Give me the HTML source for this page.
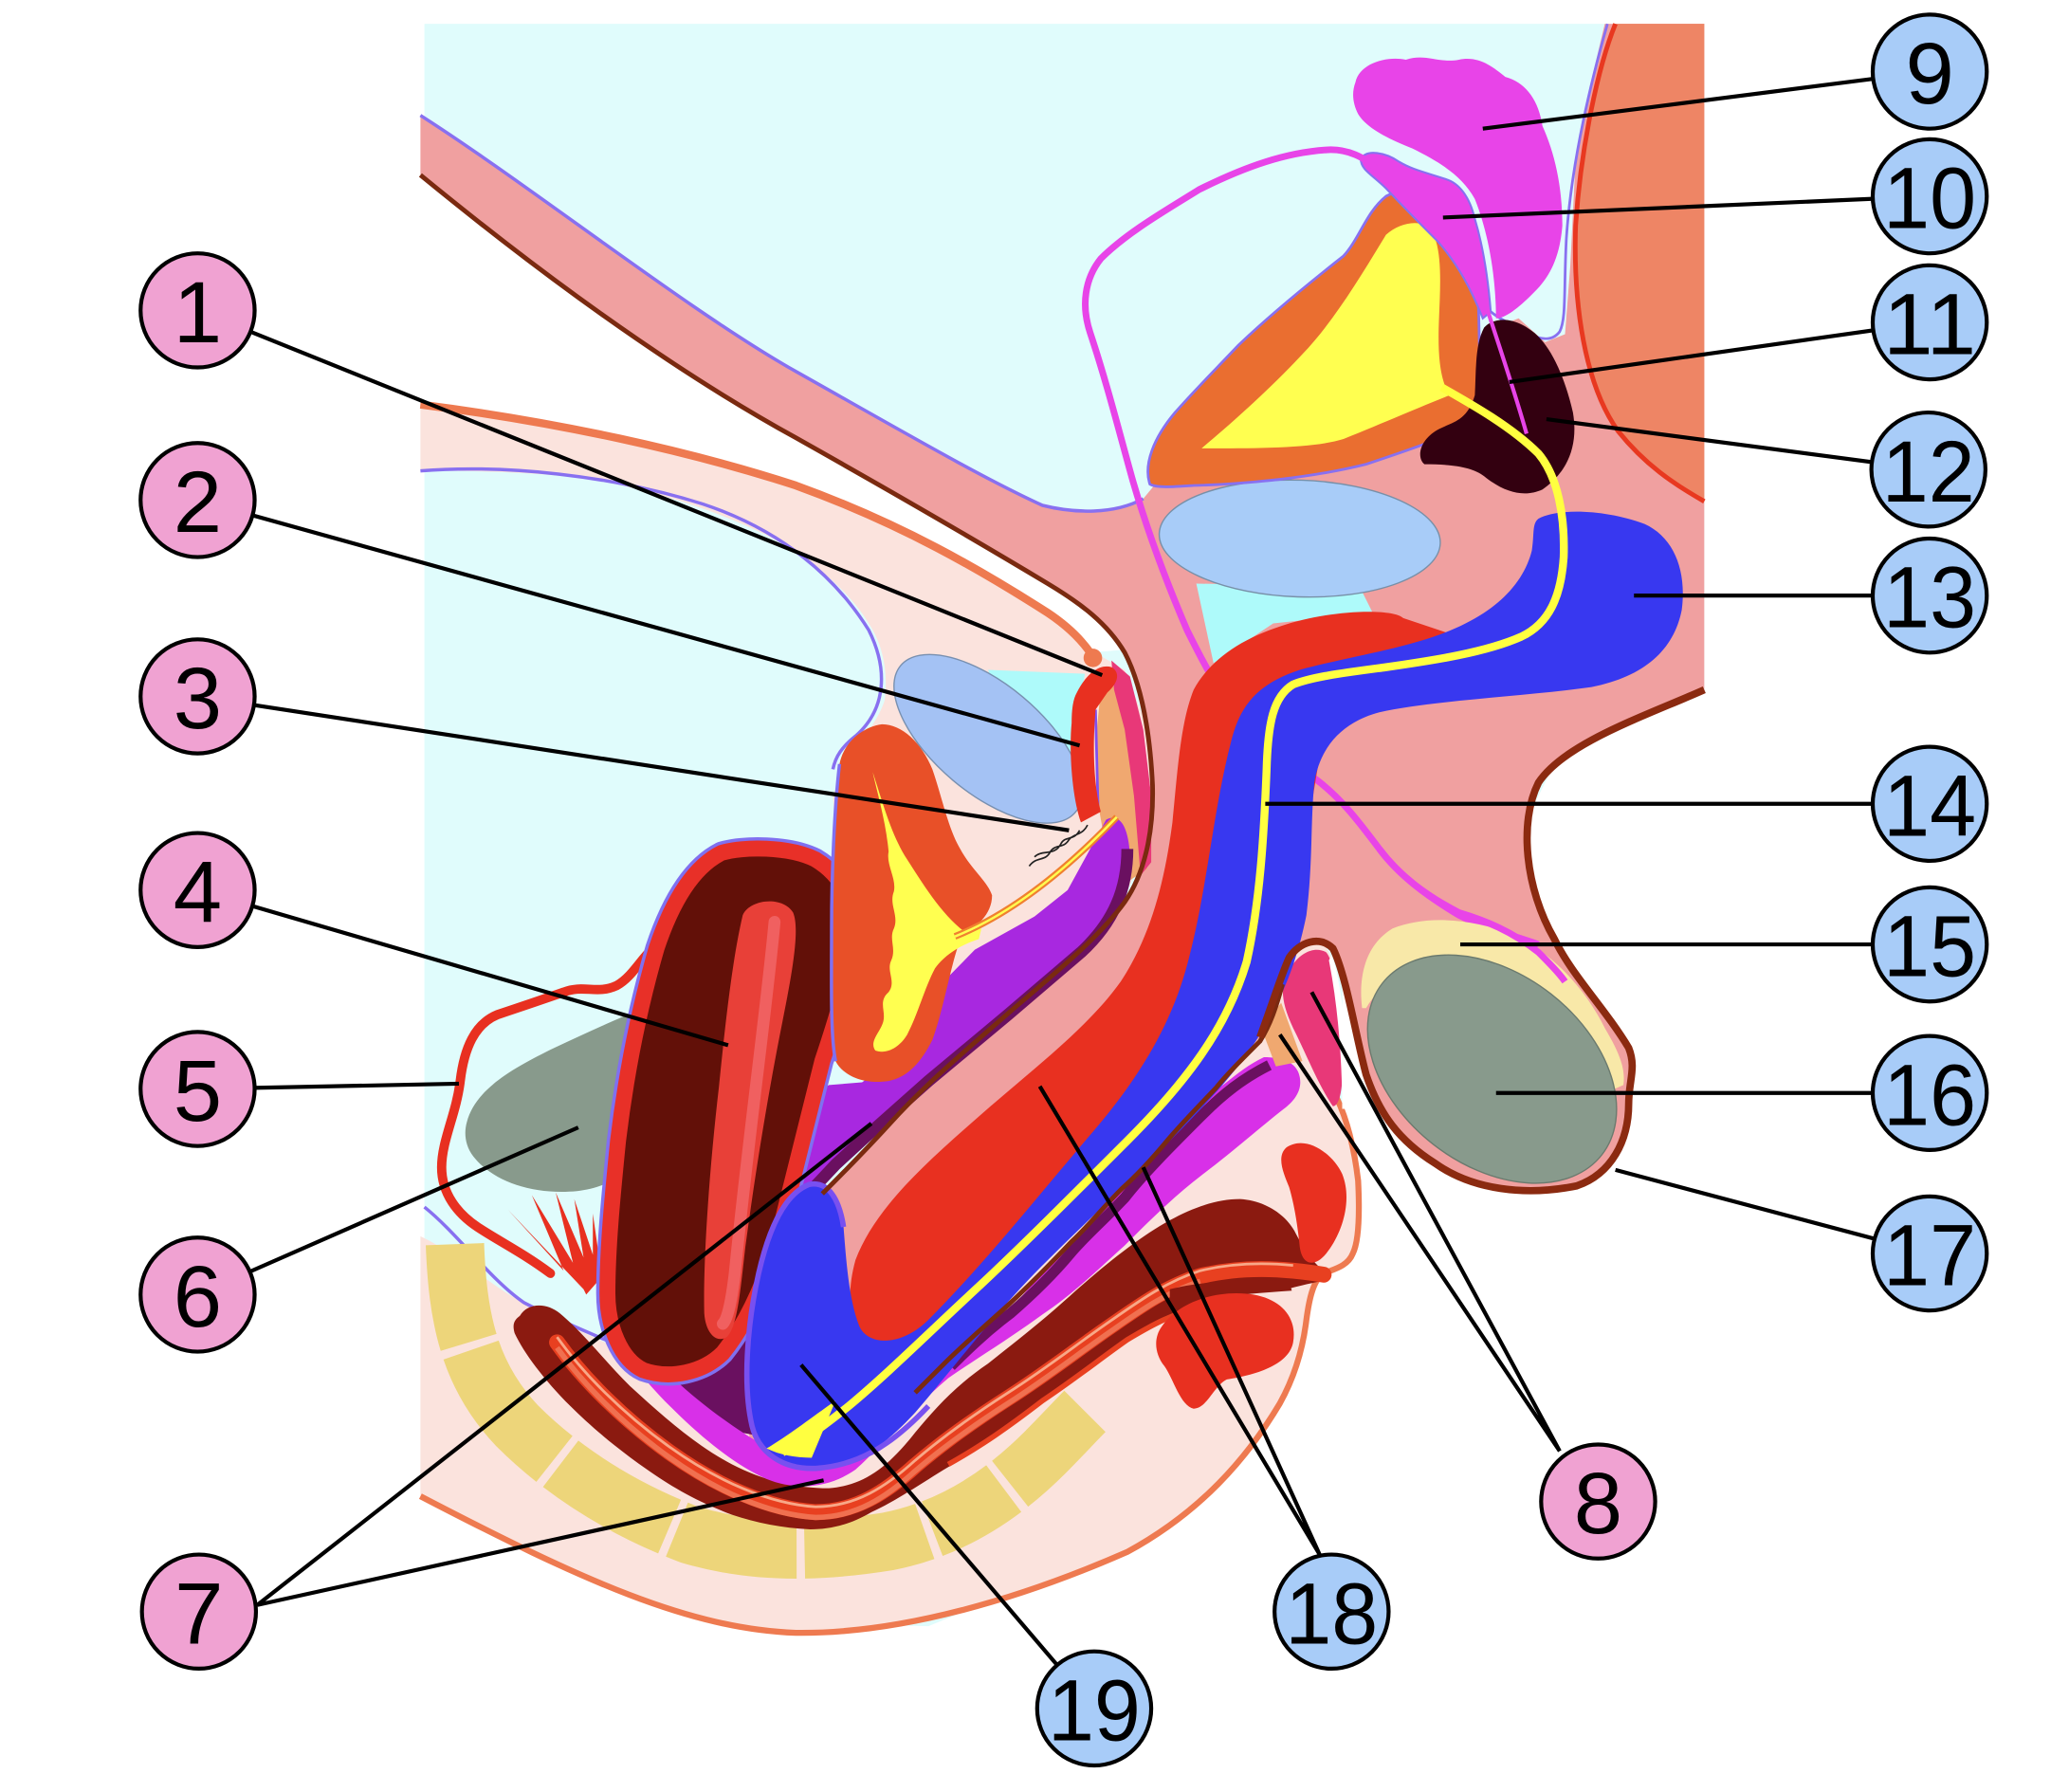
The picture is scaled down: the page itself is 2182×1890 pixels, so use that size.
<!DOCTYPE html>
<html><head><meta charset="utf-8"><style>html,body{margin:0;padding:0;background:#fff}svg{display:block}</style></head>
<body>
<svg width="2182" height="1890" viewBox="0 0 1560 1351" preserveAspectRatio="none" xmlns="http://www.w3.org/2000/svg">
<rect x="0" y="0" width="1560" height="1351" fill="#fff"/>
<!-- cyan background -->
<path d="M320,18 H1285 V520 L1175,570 L1150,620 L1060,700 L1012,740 L1014,880 L1015,940 L985,965 L978,1000 L950,1065 L860,1160 L700,1226 L560,1223 L420,1175 L320,1120 Z" fill="#E0FCFC"/>
<!-- white wedge between bodies -->
<path d="M317,132 C400,200 500,275 600,330 C680,375 740,410 790,440 C815,455 835,470 846,490 L822,492 C815,482 805,472 790,462 C740,430 680,395 600,366 C520,340 420,318 317,305 Z" fill="#fff"/>
<!-- female pale pink regions -->
<path d="M317,303 C420,316 520,338 600,364 C680,393 740,428 790,460 L822,490 L848,505 L863,543 L869,592 L863,640 L850,672 L800,730 L740,780 L700,810 L640,790 L628,600 C640,565 660,550 667,528 C670,505 665,485 655,470 C640,445 610,420 577,403 C540,385 500,372 450,362 C400,355 350,355 317,355 Z" fill="#FBE3DD"/>
<path d="M317,932 C345,945 370,970 395,982 C420,994 445,1008 470,1018 L600,1000 L700,900 L860,790 L955,775 L967,740 C972,718 985,705 998,712 C1008,722 1012,760 1012,800 L1008,828 C1016,845 1021,865 1024,890 C1025,910 1025,935 1020,945 C1016,955 1005,957 998,960 C990,965 987,980 985,995 C982,1020 975,1040 965,1058 C940,1100 905,1140 850,1170 C770,1205 680,1232 600,1231 C520,1228 440,1192 317,1128 Z" fill="#FBE3DD"/>
<path d="M317,305 C420,318 520,340 600,366 C680,395 740,430 790,462 C805,472 815,482 822,492" fill="none" stroke="#EE7A50" stroke-width="6"/>
<path d="M1008,828 C1016,845 1021,865 1024,890 C1025,910 1025,935 1020,945 C1016,955 1005,957 998,960 C990,965 987,980 985,995 C982,1020 975,1040 965,1058 C940,1100 905,1140 850,1170 C770,1205 680,1232 600,1231 C520,1228 440,1192 317,1128" fill="none" stroke="#EE7A50" stroke-width="4.5"/>
<!-- peritoneum lines -->
<path d="M317,355 C380,350 460,358 530,380 C590,400 630,435 655,475 C670,505 668,535 645,555 C635,563 630,570 628,580" fill="none" stroke="#8870F0" stroke-width="2.5"/>
<path d="M320,910 C345,930 370,965 395,982 C420,995 445,1005 470,1016" fill="none" stroke="#8870F0" stroke-width="2.5"/>
<!-- vertebrae -->
<path d="M343,938 C345,990 352,1035 390,1075 C425,1110 470,1138 520,1157 C570,1172 620,1170 670,1162 C720,1152 758,1125 788,1095 C800,1083 810,1072 818,1064" fill="none" stroke="#EDD57A" stroke-width="44" stroke-dasharray="75 6 105 6 95 6 92 6 92 6 62 6 90"/>
<!-- rectum -->
<path d="M392,992 C398,982 412,982 422,990 C440,1005 455,1025 475,1045 C500,1068 525,1090 552,1104 C575,1116 600,1122 625,1122 C650,1120 668,1108 690,1080 C705,1062 720,1045 745,1028 C765,1012 786,996 810,974 C835,952 860,932 882,920 C900,910 918,904 935,904 C952,905 968,914 976,928 C982,940 990,952 998,958 L996,966 C985,968 978,970 970,972 C940,975 905,980 882,992 C860,1002 845,1014 834,1022 C815,1036 800,1048 786,1058 C760,1076 740,1092 715,1106 C695,1118 675,1132 657,1140 C640,1150 625,1153 611,1153 C590,1152 570,1148 552,1142 C525,1132 505,1120 488,1108 C465,1092 445,1075 430,1060 C410,1040 395,1020 388,1005 C386,998 388,995 392,992 Z" fill="#8B1A10"/>
<path d="M420,1012 C440,1040 470,1070 505,1095 C540,1120 580,1138 615,1140 C645,1140 668,1125 690,1105 C710,1088 735,1070 760,1054 C790,1035 815,1015 840,998 C860,984 880,970 905,962 C930,956 955,956 975,958 C985,959 992,960 998,961" fill="none" stroke="#E84020" stroke-width="12" stroke-linecap="round"/>
<path d="M420,1016 C440,1044 470,1074 505,1099 C540,1124 580,1142 615,1144 C645,1144 668,1129 690,1109 C710,1092 735,1074 760,1058 C790,1039 815,1019 840,1002 C860,988 880,974 905,966" fill="none" stroke="#F07050" stroke-width="4"/>
<path d="M420,1008 C440,1036 470,1066 505,1091 C540,1116 580,1134 615,1136 C645,1136 668,1121 690,1101 C710,1084 735,1066 760,1050 C790,1031 815,1011 840,994 C860,980 880,966 905,958 C930,952 955,952 975,954" fill="none" stroke="#F8A888" stroke-width="2"/>
<path d="M715,1104 C740,1090 760,1076 786,1056 C810,1040 830,1024 850,1010 C870,998 885,990 905,986" fill="none" stroke="#E84020" stroke-width="4"/>
<path d="M882,972 C905,966 940,964 972,966 L974,973 C945,975 910,978 882,982 Z" fill="#8B1A10"/>
<path d="M970,865 C985,855 1005,870 1012,885 C1020,905 1012,930 1000,945 C992,955 982,955 980,940 C978,920 975,905 972,895 C968,885 962,872 970,865 Z" fill="#E83020"/>
<path d="M876,1000 C890,980 920,972 945,976 C968,980 978,995 975,1012 C972,1028 950,1036 925,1040 C915,1045 910,1062 900,1062 C890,1060 885,1040 878,1030 C870,1020 870,1008 876,1000 Z" fill="#E83020"/>
<!-- male salmon body -->
<path d="M317,87 C400,140 520,235 600,280 C680,325 740,360 786,381 C810,387 840,388 862,376 L900,330 L1000,230 L1112,300 L1119,250 L1145,240 L1165,258 L1180,252 L1184,200 L1188,120 L1200,60 L1210,18 L1285,18 L1285,520 C1240,540 1180,560 1160,590 C1145,620 1150,670 1172,708 C1185,735 1210,760 1228,790 C1234,805 1228,815 1228,832 C1228,860 1215,885 1189,894 C1150,902 1110,897 1082,877 C1055,860 1040,840 1030,810 C1022,780 1015,735 1005,715 C995,705 980,710 972,722 C966,735 960,755 950,782 C930,805 900,830 870,858 C840,888 810,920 780,950 C750,980 720,1012 690,1045 L640,1095 L600,1110 L565,1085 L565,1000 L590,920 L620,900 C635,885 650,870 671,847 C700,815 735,786 767,758 C800,730 830,705 848,680 C862,660 870,630 869,592 C867,550 860,515 848,492 C835,470 815,455 790,440 C740,410 680,375 600,330 C500,275 400,200 317,132 Z" fill="#F0A0A0"/>
<path d="M317,87 C400,140 520,235 600,280 C680,325 740,360 786,381 C810,387 840,388 862,376" fill="none" stroke="#8870F0" stroke-width="2.5"/>
<!-- orange top-right region -->
<path d="M1218,18 L1285,18 L1285,378 C1262,365 1240,350 1220,325 C1195,290 1186,230 1188,170 C1192,110 1205,50 1218,18 Z" fill="#EE8565"/>
<path d="M1218,18 C1205,50 1192,110 1188,170 C1186,230 1195,290 1220,325 C1240,350 1262,365 1285,378" fill="none" stroke="#E83820" stroke-width="3.5"/>
<path d="M1212,18 C1200,60 1185,120 1181,180 C1179,220 1181,240 1176,250 C1170,258 1160,256 1150,250 C1140,245 1130,240 1124,235" fill="none" stroke="#8870F0" stroke-width="2"/>
<!-- female retropubic structures -->
<path d="M745,505 L818,508 L812,540 L810,612 L795,616 L775,590 Z" fill="#AEFAFA"/>
<ellipse cx="745" cy="557" rx="86" ry="41" transform="rotate(40 745 557)" fill="#A4C2F4" stroke="#7890B0" stroke-width="1"/>
<path d="M830,520 L848,515 L860,560 L866,610 L865,655 L850,665 L834,640 L829,612 L826,560 Z" fill="#F0A870"/>
<path d="M838,498 L852,510 L862,550 L868,600 L868,650 L860,660 L855,600 L848,550 L840,520 Z" fill="#E83878"/>
<path d="M826,535 L828,612" stroke="#8050F0" stroke-width="2" fill="none"/>
<path d="M812,522 C818,510 828,500 838,503 C845,507 843,515 835,522 L826,535 C824,560 824,590 830,612 L815,620 C808,600 806,565 808,545 C808,535 809,527 812,522 Z" fill="#E83020"/>
<circle cx="824" cy="496" r="7" fill="#EE7A50"/>
<!-- anterior vaginal wall (purple) -->
<path d="M834,618 C845,612 852,625 852,650 C852,675 840,695 820,715 L760,765 L700,815 L655,855 L630,880 L612,897 L600,930 L585,975 L566,1006 L540,1010 L560,960 L585,905 L600,860 L612,825 L625,818 L650,816 L672,800 L690,762 L735,716 L780,691 L805,671 Z" fill="#A828E0"/>
<path d="M850,640 C850,670 840,695 815,718 L760,765 L700,815 L655,855 L630,878 L614,895" fill="none" stroke="#6A1060" stroke-width="9"/>
<path d="M497,1008 C520,1000 545,1000 568,1010 C572,1035 572,1060 570,1082 C555,1080 540,1075 530,1068 C515,1055 500,1035 488,1019 Z" fill="#6A1060"/>
<!-- posterior vaginal wall (magenta) -->
<path d="M953,797 C965,797 978,800 980,812 C982,822 976,830 968,836 C950,850 930,868 906,886 C885,902 865,922 848,939 C830,955 810,975 786,991 C760,1010 735,1025 715,1039 C690,1060 665,1090 645,1108 C625,1122 600,1124 578,1115 C555,1105 530,1085 505,1060 C485,1040 470,1020 460,1005 L480,1010 C500,1035 540,1070 580,1092 C610,1100 650,1085 690,1050 C700,1040 708,1032 715,1025 C740,1006 760,990 775,972 C790,955 800,945 810,934 C825,918 835,908 846,898 C860,882 870,870 882,858 C895,845 905,832 917,822 C930,812 940,803 953,797 Z" fill="#D830E8"/>
<path d="M957,803 C937,813 922,825 907,840 C882,865 862,885 848,903 C832,920 817,933 807,945 C792,963 777,977 762,990 C742,1005 727,1020 717,1030" fill="none" stroke="#6A1060" stroke-width="8"/>
<!-- U structure -->
<path d="M951,775 L966,756 L982,800 L962,804 Z" fill="#F0A870"/>
<path d="M968,740 C975,720 990,712 1000,718 C1008,728 1010,760 1012,800 C1013,820 1010,834 1005,834 C995,820 985,795 975,775 C968,760 966,750 968,740 Z" fill="#E83878"/>
<path d="M1004,720 C1010,735 1014,770 1017,800 C1019,820 1020,832 1018,836 L1012,836 C1012,800 1009,760 1002,724 Z" fill="#fff"/>
<!-- ovary, tube -->
<path d="M352,846 C358,822 385,806 418,790 C448,776 478,762 497,756 L495,858 C482,880 462,895 435,898 C402,901 372,891 357,872 C350,863 350,853 352,846 Z" fill="#889A8C"/>
<path d="M500,712 C488,712 480,735 465,743 C450,750 440,742 425,748 C405,755 390,760 375,765 C358,772 350,790 347,815 C344,840 333,860 333,880 C333,900 345,915 360,925 C375,935 395,945 415,960" fill="none" stroke="#E83020" stroke-width="7" stroke-linecap="round"/>
<path d="M440,972 L383,912 L425,958 L401,901 L432,952 L419,899 L440,948 L433,904 L447,946 L447,915 L452,950 L451,937 L456,960 L442,976 Z" fill="#E83020"/>
<!-- uterus -->
<path d="M544,643 C560,638 595,638 615,648 C635,660 645,680 643,705 C640,740 630,770 620,800 C610,840 600,880 590,920 C580,960 565,995 545,1020 C530,1035 505,1040 485,1033 C468,1025 458,1000 458,975 C458,940 462,900 466,860 C472,810 482,760 495,715 C505,685 520,655 544,643 Z" fill="none" stroke="#8070F0" stroke-width="17"/>
<path d="M544,643 C560,638 595,638 615,648 C635,660 645,680 643,705 C640,740 630,770 620,800 C610,840 600,880 590,920 C580,960 565,995 545,1020 C530,1035 505,1040 485,1033 C468,1025 458,1000 458,975 C458,940 462,900 466,860 C472,810 482,760 495,715 C505,685 520,655 544,643 Z" fill="#621008" stroke="#E83028" stroke-width="12"/>
<path d="M560,690 C565,678 590,675 598,688 C603,700 598,730 590,770 C580,820 570,880 562,940 C558,975 556,1000 548,1008 C540,1013 532,1005 531,990 C530,950 535,880 542,820 C548,760 553,720 560,690 Z" fill="#E84038"/>
<path d="M584,695 C578,760 564,860 554,960 C551,985 548,995 545,998" fill="none" stroke="#F06060" stroke-width="9" stroke-linecap="round"/>
<!-- female bladder -->
<path d="M633,576 C636,560 650,548 665,546 C680,546 695,560 703,580 C710,600 715,625 724,640 C732,655 745,665 748,675 C748,690 735,700 726,704 C718,720 712,760 703,784 C695,800 685,812 670,815 C650,818 635,810 630,800 C626,780 627,740 627,700 C627,660 629,610 633,576 Z" fill="#E85028"/>
<path d="M633,576 C629,610 627,660 627,700 C627,740 626,780 630,800" fill="none" stroke="#8070F0" stroke-width="2.5"/>
<path d="M658,582 C664,600 672,630 684,648 C695,665 710,690 728,703 L740,700 L738,708 C725,712 712,720 705,730 C697,745 692,765 684,780 C678,790 668,795 660,792 C655,785 664,778 666,770 C668,762 662,755 670,748 C676,740 668,732 672,724 C676,715 670,708 674,700 C678,690 670,682 674,672 C676,662 668,652 670,642 C668,620 662,600 658,582 Z" fill="#FFFF50"/>
<path d="M720,706 C760,690 800,660 842,616" fill="none" stroke="#F08030" stroke-width="5"/>
<path d="M720,706 C760,690 800,660 842,616" fill="none" stroke="#FFFF50" stroke-width="1.8"/>
<path d="M776,653 C782,645 788,650 792,642 C796,636 802,640 806,633 C810,628 816,630 820,622 M780,646 C786,640 795,646 800,636 C803,630 810,634 814,626" fill="none" stroke="#222" stroke-width="1.2"/>
<!-- male pelvic organs -->
<path d="M902,440 L1025,442 L1035,462 L960,470 L915,500 Z" fill="#AEFAFA"/>
<ellipse cx="980" cy="406" rx="106" ry="44" transform="rotate(2 980 406)" fill="#A8CCF8" stroke="#7890A8" stroke-width="1"/>
<path d="M867,365 C862,350 870,330 886,311 C900,295 915,280 934,260 C955,240 985,215 1013,193 C1025,180 1030,160 1045,148 C1060,140 1080,140 1100,145 C1110,165 1114,200 1115,240 C1116,280 1116,300 1112,318 C1090,330 1060,340 1030,350 C990,360 940,365 900,366 C885,367 872,368 867,365 Z" fill="#EA6E30" stroke="#8870F0" stroke-width="2"/>
<path d="M906,338 C925,322 955,296 982,267 C1005,243 1025,210 1045,177 C1055,168 1070,165 1078,172 C1088,185 1086,215 1085,240 C1084,265 1085,285 1093,298 C1075,305 1045,318 1013,331 C990,338 950,338 906,338 Z" fill="#FFFF50"/>
<path d="M1022,62 C1025,48 1045,42 1060,45 C1075,40 1085,48 1100,45 C1115,42 1125,50 1135,58 C1150,62 1160,75 1163,95 C1172,115 1178,140 1178,170 C1176,195 1168,210 1155,222 C1145,232 1135,240 1128,240 C1128,215 1124,180 1112,150 C1102,132 1085,122 1065,112 C1045,104 1030,96 1024,86 C1020,78 1019,70 1022,62 Z" fill="#E844E8"/>
<path d="M1026,120 C1030,112 1045,115 1055,122 C1065,128 1075,130 1090,135 C1100,138 1108,148 1112,165 C1118,185 1122,210 1124,235 L1118,240 C1110,220 1100,200 1084,182 C1072,170 1060,158 1045,142 C1035,132 1026,128 1026,120 Z" fill="#E844E8" stroke="#8870F0" stroke-width="1.5"/>
<path d="M1119,247 C1125,240 1140,237 1157,251 C1170,262 1180,285 1186,311 C1190,335 1183,355 1163,369 C1150,375 1135,372 1119,359 C1110,352 1095,350 1074,350 C1068,345 1070,332 1084,324 C1095,318 1106,318 1112,298 C1113,280 1112,260 1119,247 Z" fill="#330010"/>
<path d="M1121,232 C1130,260 1142,295 1151,327" fill="none" stroke="#E844E8" stroke-width="3"/>
<path d="M1040,130 C1030,118 1015,112 1000,113 C970,115 940,125 904,143 C880,158 850,175 830,195 C818,210 815,230 822,251 C835,290 845,330 854,362 C865,400 880,440 895,475 C905,495 915,515 930,535 C950,560 970,575 990,586 C1010,600 1025,620 1040,640 C1055,660 1075,675 1100,690 C1120,700 1140,705 1160,712" fill="none" stroke="#E844E8" stroke-width="5"/>
<!-- corpus cavernosum -->
<path d="M1058,466 C1050,458 1000,460 966,472 C935,482 912,498 900,520 C890,545 888,580 884,620 C878,665 868,705 845,740 C820,775 780,805 740,840 C700,875 660,910 645,950 C638,975 640,1000 652,1010 C665,1018 685,1012 695,1000 L760,940 L820,880 L900,800 L960,700 L990,600 L1000,540 L1060,500 L1100,480 Z" fill="#E83020"/>
<!-- corpus spongiosum -->
<path d="M1160,391 C1175,383 1210,384 1240,395 C1262,405 1272,430 1268,460 C1262,490 1240,510 1200,518 C1150,525 1080,528 1040,537 C1010,545 995,565 991,590 C988,620 990,650 985,690 C975,740 955,780 920,820 C880,865 830,910 785,955 C750,990 720,1030 690,1065 C665,1092 645,1105 615,1107 C590,1108 572,1095 567,1075 C560,1045 563,1000 572,960 C580,925 592,900 610,893 C625,890 633,905 636,925 C638,950 640,980 648,1000 C655,1015 680,1015 700,995 C740,955 780,905 820,858 C860,812 885,770 897,720 C910,670 915,610 928,560 C935,530 950,515 980,505 C1020,494 1070,488 1105,470 C1135,455 1150,435 1155,415 C1157,402 1155,395 1160,391 Z" fill="#3838F0"/>
<path d="M700,1060 C670,1092 645,1105 615,1107 C590,1108 572,1095 567,1075 C560,1045 563,1000 572,960 C580,925 592,900 610,893 C625,890 633,905 636,925" fill="none" stroke="#7850F0" stroke-width="4"/>
<path d="M1087,292 C1110,305 1140,322 1160,342 C1175,360 1180,390 1179,420 C1177,450 1168,470 1147,480 C1120,492 1080,498 1045,503 C1015,507 990,510 975,516 C960,525 956,545 955,580 C953,630 950,680 940,725 C925,775 895,815 850,860 C810,900 770,940 740,968 C700,1005 670,1035 640,1060 C615,1080 600,1090 590,1095" fill="none" stroke="#FFFF40" stroke-width="6"/>
<path d="M578,1092 C595,1082 610,1070 630,1056 L612,1099 C600,1099 588,1097 578,1092 Z" fill="#FFFF40"/>
<!-- brown outlines -->
<path d="M317,132 C400,200 500,275 600,330 C680,375 740,410 790,440 C815,455 835,470 848,492 C860,515 867,550 869,592 C870,630 862,660 848,680 C830,705 800,730 767,758 C735,786 700,815 671,847 C650,870 635,885 620,900" fill="none" stroke="#7A2A10" stroke-width="3.5"/>
<path d="M967,742 C962,760 958,772 950,785 C935,800 925,810 917,820 C900,838 890,848 880,860 C865,878 855,888 846,896 C830,912 820,925 808,936 C790,955 775,970 760,984 C740,1002 725,1015 712,1028 C700,1040 695,1045 690,1050" fill="none" stroke="#7A2A10" stroke-width="3.5"/>
<!-- scrotal contents -->
<path d="M1027,760 C1024,735 1030,712 1050,700 C1075,690 1110,692 1141,705 C1170,718 1195,745 1210,775 C1220,792 1226,805 1224,818 L1215,822 C1200,780 1160,740 1110,728 C1075,720 1045,735 1030,760 Z" fill="#F8E8A8"/>
<ellipse cx="1125" cy="806" rx="105" ry="72" transform="rotate(38 1125 806)" fill="#889A8C" stroke="#6B7A6E" stroke-width="1"/>
<path d="M1040,640 C1055,660 1075,675 1100,688 C1120,694 1140,702 1160,718 C1168,726 1175,733 1180,740" fill="none" stroke="#E844E8" stroke-width="5"/>
<path d="M1285,520 C1240,540 1180,560 1160,590 C1145,620 1150,670 1172,708 C1185,735 1210,760 1228,790 C1234,805 1228,815 1228,832 C1228,860 1215,885 1189,894 C1150,902 1110,897 1082,877 C1055,860 1040,840 1030,810 C1022,780 1015,735 1005,715 C995,705 980,710 972,722 C966,735 960,755 950,782" fill="none" stroke="#8B2A10" stroke-width="5.5"/>
<!-- leader lines -->
<g stroke="#000" stroke-width="3" fill="none">
<path d="M149,234 L831,509"/>
<path d="M149,377 L814,562"/>
<path d="M149,525 L806,626"/>
<path d="M149,671 L549,788"/>
<path d="M149,821 L346,817"/>
<path d="M149,976 L436,850"/>
<path d="M194,1210 L657,847 M194,1210 L621,1116"/>
<path d="M1176,1094 L989,748 M1176,1094 L965,780"/>
<path d="M1455,54 L1118,97"/>
<path d="M1455,148 L1088,164"/>
<path d="M1455,243 L1138,288"/>
<path d="M1454,354 L1166,316"/>
<path d="M1455,449 L1232,449"/>
<path d="M1455,606 L954,606"/>
<path d="M1455,712 L1101,712"/>
<path d="M1455,824 L1128,824"/>
<path d="M1455,945 L1218,882"/>
<path d="M995,1172 L784,819 M995,1172 L862,880"/>
<path d="M825,1288 L604,1029"/>
</g>
<!-- label circles -->
<g stroke="#000" stroke-width="3">
<circle cx="149" cy="234" r="43" fill="#F0A2D2"/>
<circle cx="149" cy="377" r="43" fill="#F0A2D2"/>
<circle cx="149" cy="525" r="43" fill="#F0A2D2"/>
<circle cx="149" cy="671" r="43" fill="#F0A2D2"/>
<circle cx="149" cy="821" r="43" fill="#F0A2D2"/>
<circle cx="149" cy="976" r="43" fill="#F0A2D2"/>
<circle cx="150" cy="1215" r="43" fill="#F0A2D2"/>
<circle cx="1205" cy="1132" r="43" fill="#F0A2D2"/>
<circle cx="1455" cy="54" r="43" fill="#A8CCF8"/>
<circle cx="1455" cy="148" r="43" fill="#A8CCF8"/>
<circle cx="1455" cy="243" r="43" fill="#A8CCF8"/>
<circle cx="1454" cy="354" r="43" fill="#A8CCF8"/>
<circle cx="1455" cy="449" r="43" fill="#A8CCF8"/>
<circle cx="1455" cy="606" r="43" fill="#A8CCF8"/>
<circle cx="1455" cy="712" r="43" fill="#A8CCF8"/>
<circle cx="1455" cy="824" r="43" fill="#A8CCF8"/>
<circle cx="1455" cy="945" r="43" fill="#A8CCF8"/>
<circle cx="1004" cy="1215" r="43" fill="#A8CCF8"/>
<circle cx="825" cy="1288" r="43" fill="#A8CCF8"/>
</g>
<g font-family="'Liberation Sans', Arial, sans-serif" font-size="66" text-anchor="middle" fill="#000">
<text x="149" y="258">1</text>
<text x="149" y="401">2</text>
<text x="149" y="549">3</text>
<text x="149" y="695">4</text>
<text x="149" y="845">5</text>
<text x="149" y="1000">6</text>
<text x="150" y="1239">7</text>
<text x="1205" y="1156">8</text>
<text x="1455" y="78">9</text>
<text x="1455" y="172" textLength="70" lengthAdjust="spacingAndGlyphs">10</text>
<text x="1455" y="267" textLength="70" lengthAdjust="spacingAndGlyphs">11</text>
<text x="1454" y="378" textLength="70" lengthAdjust="spacingAndGlyphs">12</text>
<text x="1455" y="473" textLength="70" lengthAdjust="spacingAndGlyphs">13</text>
<text x="1455" y="630" textLength="70" lengthAdjust="spacingAndGlyphs">14</text>
<text x="1455" y="736" textLength="70" lengthAdjust="spacingAndGlyphs">15</text>
<text x="1455" y="848" textLength="70" lengthAdjust="spacingAndGlyphs">16</text>
<text x="1455" y="969" textLength="70" lengthAdjust="spacingAndGlyphs">17</text>
<text x="1004" y="1239" textLength="70" lengthAdjust="spacingAndGlyphs">18</text>
<text x="825" y="1312" textLength="70" lengthAdjust="spacingAndGlyphs">19</text>
</g>
</svg>
</body></html>
